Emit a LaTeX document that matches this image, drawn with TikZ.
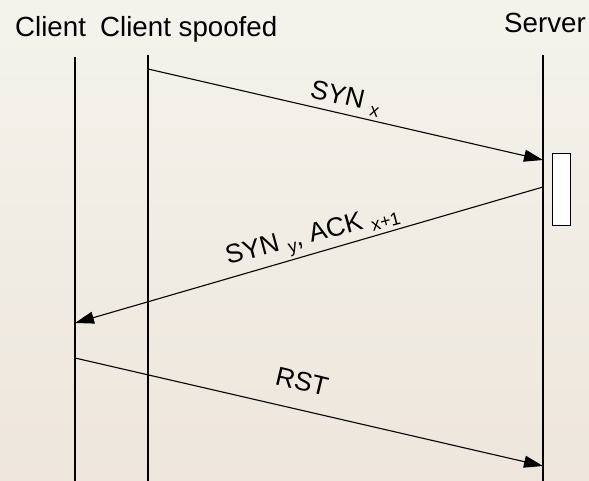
\documentclass[tikz,border=0pt]{standalone}
\usepackage{fontspec}
\setmainfont{Liberation Sans}
\usetikzlibrary{arrows.meta}
\definecolor{bgtop}{RGB}{243,243,236}
\definecolor{bgbot}{RGB}{238,230,220}
% lowered, smaller index after a segment name
\newcommand\lowsub[1]{\raisebox{-5pt}{\fontsize{18}{18}\selectfont #1}}
\begin{document}
\begin{tikzpicture}[x=1pt,y=1pt,
  lifeline/.style={line width=1.1pt},
  msg/.style={line width=1.1pt, -{Triangle[length=19pt,width=12pt]}},
  head/.style={inner sep=0pt, anchor=base west, font=\fontsize{27.7}{30}\selectfont},
  lbl/.style={inner sep=0pt, anchor=base west, font=\fontsize{26.5}{29}\selectfont},
  actbox/.style={draw, fill=white, line width=1pt, minimum width=18pt,
    minimum height=72pt, inner sep=0pt}]
\shade[top color=bgtop, bottom color=bgbot] (0,0) rectangle (589,481);
\useasboundingbox (0,0) rectangle (589,481);

% participants
\node[head] (hclient) at (15,444) {Client};
\node[head] (hspoof) at (100,444) {Client spoofed};
\node[head] (hserver) at (504,448) {Server};

% lifelines
\coordinate (ct) at (75,424);  \coordinate (cb) at (75,0);
\coordinate (st) at (148,426); \coordinate (sb) at (148,0);
\coordinate (vt) at (543,426); \coordinate (vb) at (543,0);
\draw[lifeline] (ct) -- (cb);
\draw[lifeline] (st) -- (sb);
\draw[lifeline] (vt) -- (vb);

% server activation
\node[actbox] (srvbox) at (561,291) {};

% messages
\coordinate (m1s) at (148,412); \coordinate (m1e) at (543,321);
\coordinate (m2s) at (543,294); \coordinate (m2e) at (75,158);
\coordinate (m3s) at (75,123);  \coordinate (m3e) at (543,15);
\draw[msg] (m1s) -- (m1e);
\draw[msg] (m2s) -- (m2e);
\draw[msg] (m3s) -- (m3e);

% message labels
\node[lbl, rotate=-13] (lsynx) at (309,384) {SYN\hspace{8pt}\lowsub{x}};
\node[lbl, rotate=15] (lsynack) at (228,216)
  {SYN\hspace{8pt}\lowsub{y}, ACK\hspace{8pt}\lowsub{x+1}};
\node[lbl, rotate=-13.5] (lrst) at (274,97) {RST};
\end{tikzpicture}
\end{document}
